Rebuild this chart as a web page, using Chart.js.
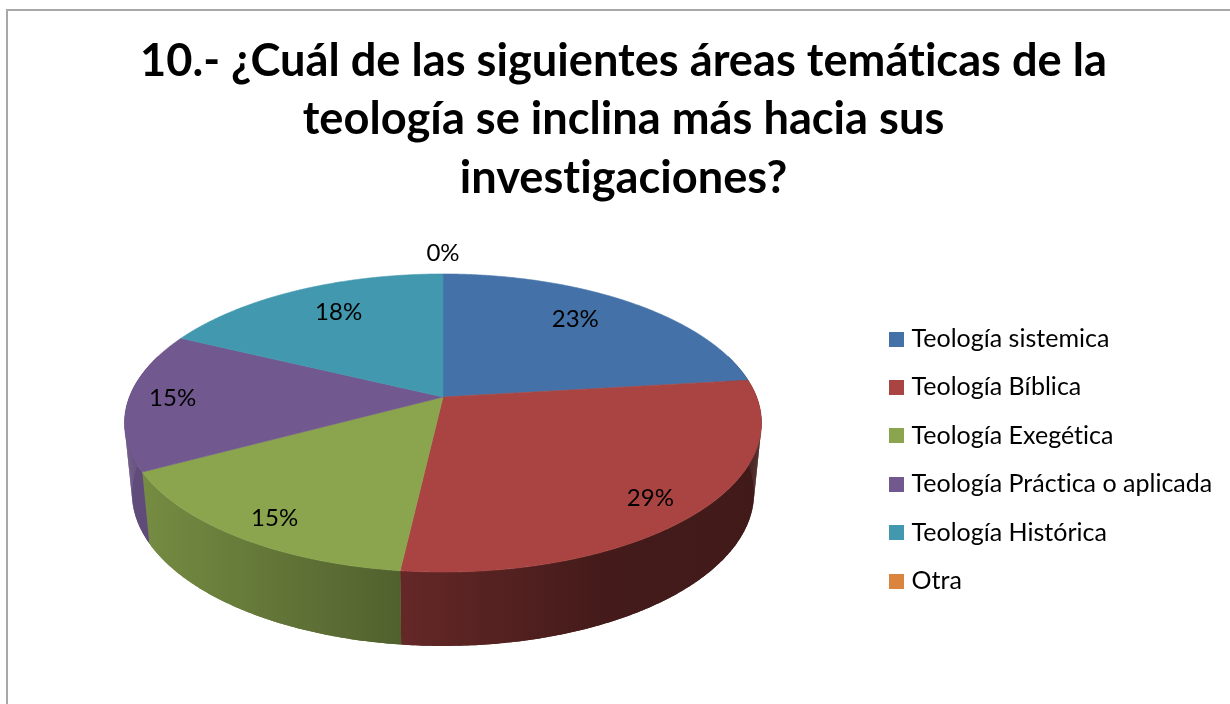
<!DOCTYPE html>
<html lang="es">
<head>
<meta charset="utf-8">
<title>Áreas temáticas de la teología</title>
<script src="https://cdn.jsdelivr.net/npm/chart.js@4"></script>
<style>
html,body{margin:0;padding:0;background:#fff;overflow:hidden}
#wrap{position:absolute;left:0;top:0;width:1230px;height:704px}
canvas{filter:blur(0.45px)}
</style>
</head>
<body>
<div id="wrap"><canvas id="c" width="1230" height="704"></canvas></div>
<script>
const titleLines = ['10.- ¿Cuál de las siguientes áreas temáticas de la', 'teología se inclina más hacia sus', 'investigaciones?'];
const categories = ['Teología sistemica', 'Teología Bíblica', 'Teología Exegética', 'Teología Práctica o aplicada', 'Teología Histórica', 'Otra'];
const shares = [23.1, 28.7, 15.3, 15.1, 17.8, 0];
const sliceColors = ['#4472A8', '#A94442', '#8AA54E', '#71588F', '#4198AF', '#DB843D'];
const labelReach = [0.757, 0.858, 0.867, 0.861, 0.752, 1.2];
const labelTurnDeg = [-3.6, 1.8, -1.3, 0.8, 2.5, 0];

// Perspective of the tilted disc (top face and bottom rim)
const K = 0.1745;
const TOP = {cx: 443, cy: 397, rx: 313.6, ry: 144.5};
const BASE = {cx: 443, cy: 466.3, rx: 306.3, ry: 148.3};
const SHADE = [[130, .86], [400, .59], [600, .40], [770, .38]];
function project(f, a, r) {
  const x = Math.cos(a) * r, y = Math.sin(a) * r, w = 1 - K * y;
  return [f.cx + f.rx * x / w, f.cy + f.ry * y / w];
}
function scaled(hex, f) {
  const n = parseInt(hex.slice(1), 16);
  return `rgb(${Math.round((n >> 16) * f)},${Math.round(((n >> 8) & 255) * f)},${Math.round((n & 255) * f)})`;
}
function legendSwatch(color) {
  const c = document.createElement('canvas');
  c.width = 15; c.height = 15;
  const g = c.getContext('2d');
  g.fillStyle = color; g.fillRect(0, 0, 15, 15);
  return c;
}
const disc3d = {
  id: 'disc3d',
  beforeDraw(chart) {
    const ctx = chart.ctx;
    ctx.letterSpacing = '0.01px';
    ctx.save();
    ctx.fillStyle = '#fff'; ctx.fillRect(0, 0, chart.width, chart.height);
    ctx.fillStyle = '#a8a8a8';
    ctx.fillRect(6, 9, chart.width - 6, 2);
    ctx.fillRect(6, 9, 2, chart.height - 9);
    ctx.restore();
  },
  afterLayout(chart) {
    const L = chart.legend;
    const o = chart.options.plugins.legendShift;
    L.left += o.x; L.right += o.x; L.top += o.y; L.bottom += o.y;
  },
  beforeDatasetsDraw(chart) {
    const ctx = chart.ctx, arcs = chart.getDatasetMeta(0).data;
    ctx.save();
    // side wall of each slice, shaded along the horizontal
    arcs.forEach((arc, i) => {
      const span = arc.endAngle - arc.startAngle;
      if (span <= 0) return;
      const n = Math.ceil(span / 0.01);
      const topPts = [], basePts = [];
      for (let s = 0; s <= n; s++) {
        const a = arc.startAngle + span * s / n;
        if (Math.sin(a) < -0.3) continue;
        topPts.push(project(TOP, a, 1));
        basePts.push(project(BASE, a, 1));
      }
      if (!topPts.length) return;
      const g = ctx.createLinearGradient(SHADE[0][0], 0, SHADE[SHADE.length - 1][0], 0);
      const w = SHADE[SHADE.length - 1][0] - SHADE[0][0];
      SHADE.forEach(([x, f]) => g.addColorStop((x - SHADE[0][0]) / w, scaled(sliceColors[i], f)));
      ctx.fillStyle = g;
      ctx.beginPath();
      topPts.forEach((p, k) => k ? ctx.lineTo(p[0], p[1]) : ctx.moveTo(p[0], p[1]));
      for (let k = basePts.length - 1; k >= 0; k--) ctx.lineTo(basePts[k][0], basePts[k][1]);
      ctx.closePath();
      ctx.fill();
      // quads close the silhouette where the rims turn away at the far left and right
      for (let k = 1; k < topPts.length; k++) {
        ctx.beginPath();
        ctx.moveTo(topPts[k-1][0], topPts[k-1][1]);
        ctx.lineTo(topPts[k][0], topPts[k][1]);
        ctx.lineTo(basePts[k][0], basePts[k][1]);
        ctx.lineTo(basePts[k-1][0], basePts[k-1][1]);
        ctx.closePath();
        ctx.fill();
      }
    });
    // top face
    arcs.forEach((arc, i) => {
      if (arc.endAngle - arc.startAngle <= 0) return;
      const n = Math.ceil((arc.endAngle - arc.startAngle) / 0.006);
      ctx.beginPath();
      ctx.moveTo(TOP.cx, TOP.cy);
      for (let s = 0; s <= n; s++) {
        const p = project(TOP, arc.startAngle + (arc.endAngle - arc.startAngle) * s / n, 1);
        ctx.lineTo(p[0], p[1]);
      }
      ctx.closePath();
      ctx.fillStyle = sliceColors[i]; ctx.strokeStyle = sliceColors[i]; ctx.lineWidth = 0.6;
      ctx.fill(); ctx.stroke();
    });
    // percent labels
    const total = shares.reduce((a, b) => a + b, 0);
    ctx.fillStyle = '#000';
    ctx.font = '24px Lato';
    ctx.textAlign = 'center';
    ctx.textBaseline = 'middle';
    arcs.forEach((arc, i) => {
      const mid = (arc.startAngle + arc.endAngle) / 2 + labelTurnDeg[i] * Math.PI / 180;
      const p = project(TOP, mid, labelReach[i]);
      ctx.fillText(Math.round(shares[i] / total * 100) + '%', p[0], p[1]);
    });
    ctx.restore();
    return false;
  }
};
new Chart(document.getElementById('c'), {
  type: 'pie',
  data: {
    labels: categories,
    datasets: [{data: shares, backgroundColor: sliceColors, borderWidth: 0}]
  },
  plugins: [disc3d],
  options: {
    responsive: false,
    animation: false,
    events: [],
    layout: {padding: {left: 17, top: 0, right: 0, bottom: 0}},
    plugins: {
      legendShift: {x: -7.6, y: 108},
      tooltip: {enabled: false},
      title: {
        display: true,
        text: titleLines,
        color: '#000',
        align: 'center',
        font: {family: 'Lato', weight: 'bold', size: 45.2, lineHeight: 1.295},
        padding: {top: 32, bottom: 10}
      },
      legend: {
        display: true,
        position: 'right',
        align: 'center',
        labels: {
          color: '#000',
          font: {family: 'Lato', size: 25},
          padding: 23.4,
          usePointStyle: true,
          pointStyleWidth: 6,
          generateLabels(chart) {
            return categories.map((t, i) => ({
              text: t, fillStyle: sliceColors[i], strokeStyle: sliceColors[i], lineWidth: 0,
              pointStyle: legendSwatch(sliceColors[i]), fontColor: '#000', index: i, hidden: false
            }));
          }
        }
      }
    }
  }
});
</script>
</body>
</html>
